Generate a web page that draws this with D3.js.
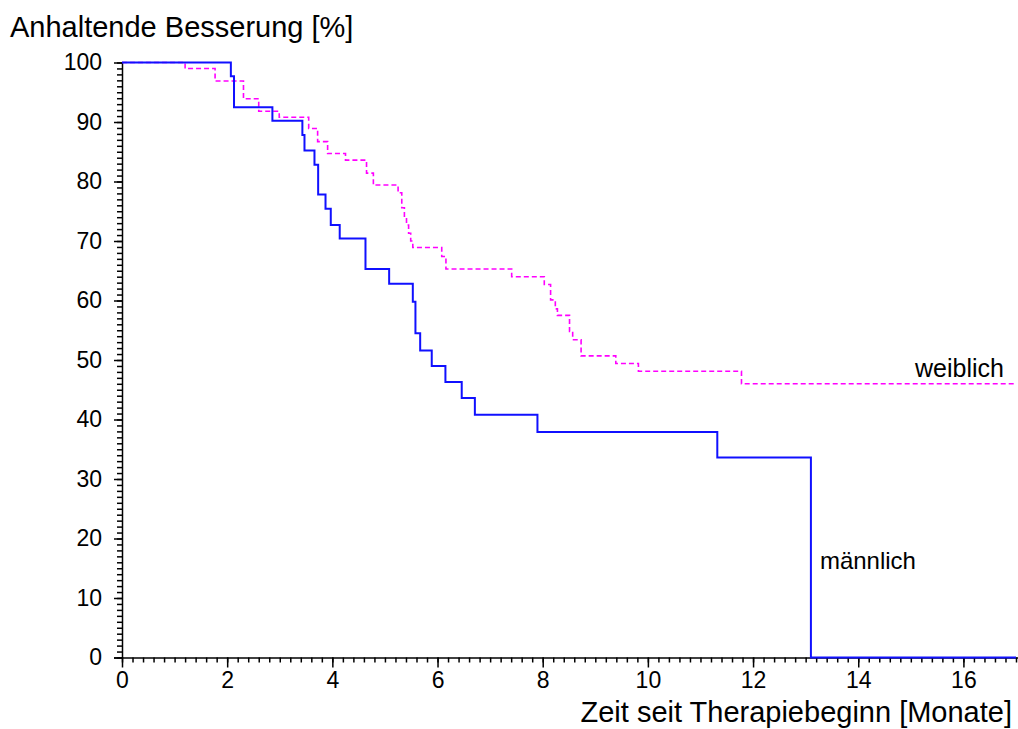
<!DOCTYPE html>
<html><head><meta charset="utf-8">
<script src="https://cdn.jsdelivr.net/npm/d3@7"></script>
<style>
html,body{margin:0;padding:0;background:#fff;}
svg{display:block;font-family:"Liberation Sans",Arial,Helvetica,sans-serif;}
</style></head>
<body>
<svg id="chart" width="1018" height="729"></svg>
<script>
// Kaplan-Meier steps: [months, percent after the step]
const maleTimes   = [0, 2.07, 2.13, 2.86, 3.43, 3.47, 3.66, 3.73, 3.87, 3.97, 4.14, 4.63, 5.08, 5.53, 5.58, 5.67, 5.89, 6.15, 6.46, 6.71, 7.90, 11.32, 13.10, 17];
const maleValues  = [100, 97.7, 92.5, 90.2, 87.8, 85.2, 82.8, 77.8, 75.4, 72.7, 70.4, 65.3, 62.8, 59.8, 54.5, 51.6, 49.0, 46.3, 43.6, 40.8, 37.9, 33.6, 0, 0];
const femaleTimes = [0, 1.20, 1.77, 2.31, 2.60, 2.99, 3.55, 3.72, 3.91, 4.25, 4.65, 4.78, 5.25, 5.32, 5.37, 5.41, 5.45, 5.49, 5.53, 6.08, 6.16, 7.41, 8.03, 8.15, 8.24, 8.28, 8.51, 8.57, 8.73, 9.39, 9.82, 11.78, 17];
const femaleValues= [100, 99.0, 96.9, 93.9, 91.8, 90.8, 88.9, 86.7, 84.7, 83.6, 81.4, 79.4, 78.1, 75.6, 74.0, 72.7, 71.3, 70.0, 68.9, 67.4, 65.3, 64.0, 62.7, 60.1, 58.6, 57.5, 54.8, 53.4, 50.7, 49.4, 48.1, 46.0, 46.0];
const xTicks = [0, 2, 4, 6, 8, 10, 12, 14, 16];
const yTicks = [0, 10, 20, 30, 40, 50, 60, 70, 80, 90, 100];
const yTitle = "Anhaltende Besserung [%]";
const xTitle = "Zeit seit Therapiebeginn [Monate]";
const seriesLabels = ["männlich", "weiblich"];

const svg = d3.select("#chart");
const x = d3.scaleLinear().domain([0, 17]).range([122, 1016]);
const y = d3.scaleLinear().domain([0, 100]).range([657.5, 62.5]);

// minor ticks
const xMinor = d3.range(0, 17.001, 0.2).map(v => +v.toFixed(1));
const yMinor = d3.range(0, 101, 1);

const gx = svg.append("g").attr("transform", `translate(0,${y(0)})`);
gx.append("g").call(d3.axisBottom(x).tickValues(xMinor).tickSize(5).tickFormat(""))
  .call(g => g.select(".domain").remove());
gx.append("g").call(d3.axisBottom(x).tickValues(xTicks).tickSize(10).tickSizeOuter(0).tickFormat(d3.format("d")).tickPadding(4))
  .call(g => g.select(".domain").attr("d", `M114,0.5H1018`));
gx.selectAll("line,path").attr("stroke", "#000").attr("stroke-width", 1.5);
gx.selectAll("text").attr("font-size", 23).attr("fill", "#000").attr("font-family", "Liberation Sans, Arial, sans-serif");

const gy = svg.append("g").attr("transform", `translate(${x(0)},0)`);
gy.append("g").call(d3.axisLeft(y).tickValues(yMinor).tickSize(5).tickFormat(""))
  .call(g => g.select(".domain").remove());
gy.append("g").call(d3.axisLeft(y).tickValues(yTicks).tickSize(8).tickSizeOuter(0).tickPadding(12).tickFormat(d3.format("d")));
gy.selectAll("line,path").attr("stroke", "#000").attr("stroke-width", 1.5);
gy.selectAll("text").attr("font-size", 23).attr("fill", "#000").attr("font-family", "Liberation Sans, Arial, sans-serif");

const line = d3.line().x(d => x(d[0])).y(d => y(d[1])).curve(d3.curveStepAfter);
const female = femaleTimes.map((t, i) => [t, femaleValues[i]]);
const male = maleTimes.map((t, i) => [t, maleValues[i]]);

svg.append("path").attr("d", line(female)).attr("fill", "none")
  .attr("stroke", "#ff00ff").attr("stroke-width", 1.6).attr("stroke-dasharray", "5,3");
svg.append("path").attr("d", line(male)).attr("fill", "none")
  .attr("stroke", "#1010ff").attr("stroke-width", 2);

svg.append("text").attr("x", 10).attr("y", 37).attr("font-size", 29).attr("fill", "#000").text(yTitle);
svg.append("text").attr("x", 1012).attr("y", 722).attr("text-anchor", "end").attr("font-size", 29).attr("fill", "#000").text(xTitle);
svg.append("text").attr("x", x(13.1) + 9).attr("y", 569).attr("font-size", 24).attr("fill", "#000").text(seriesLabels[0]);
svg.append("text").attr("x", 1004).attr("y", 377).attr("text-anchor", "end").attr("font-size", 25).attr("fill", "#000").text(seriesLabels[1]);
</script>
</body></html>
